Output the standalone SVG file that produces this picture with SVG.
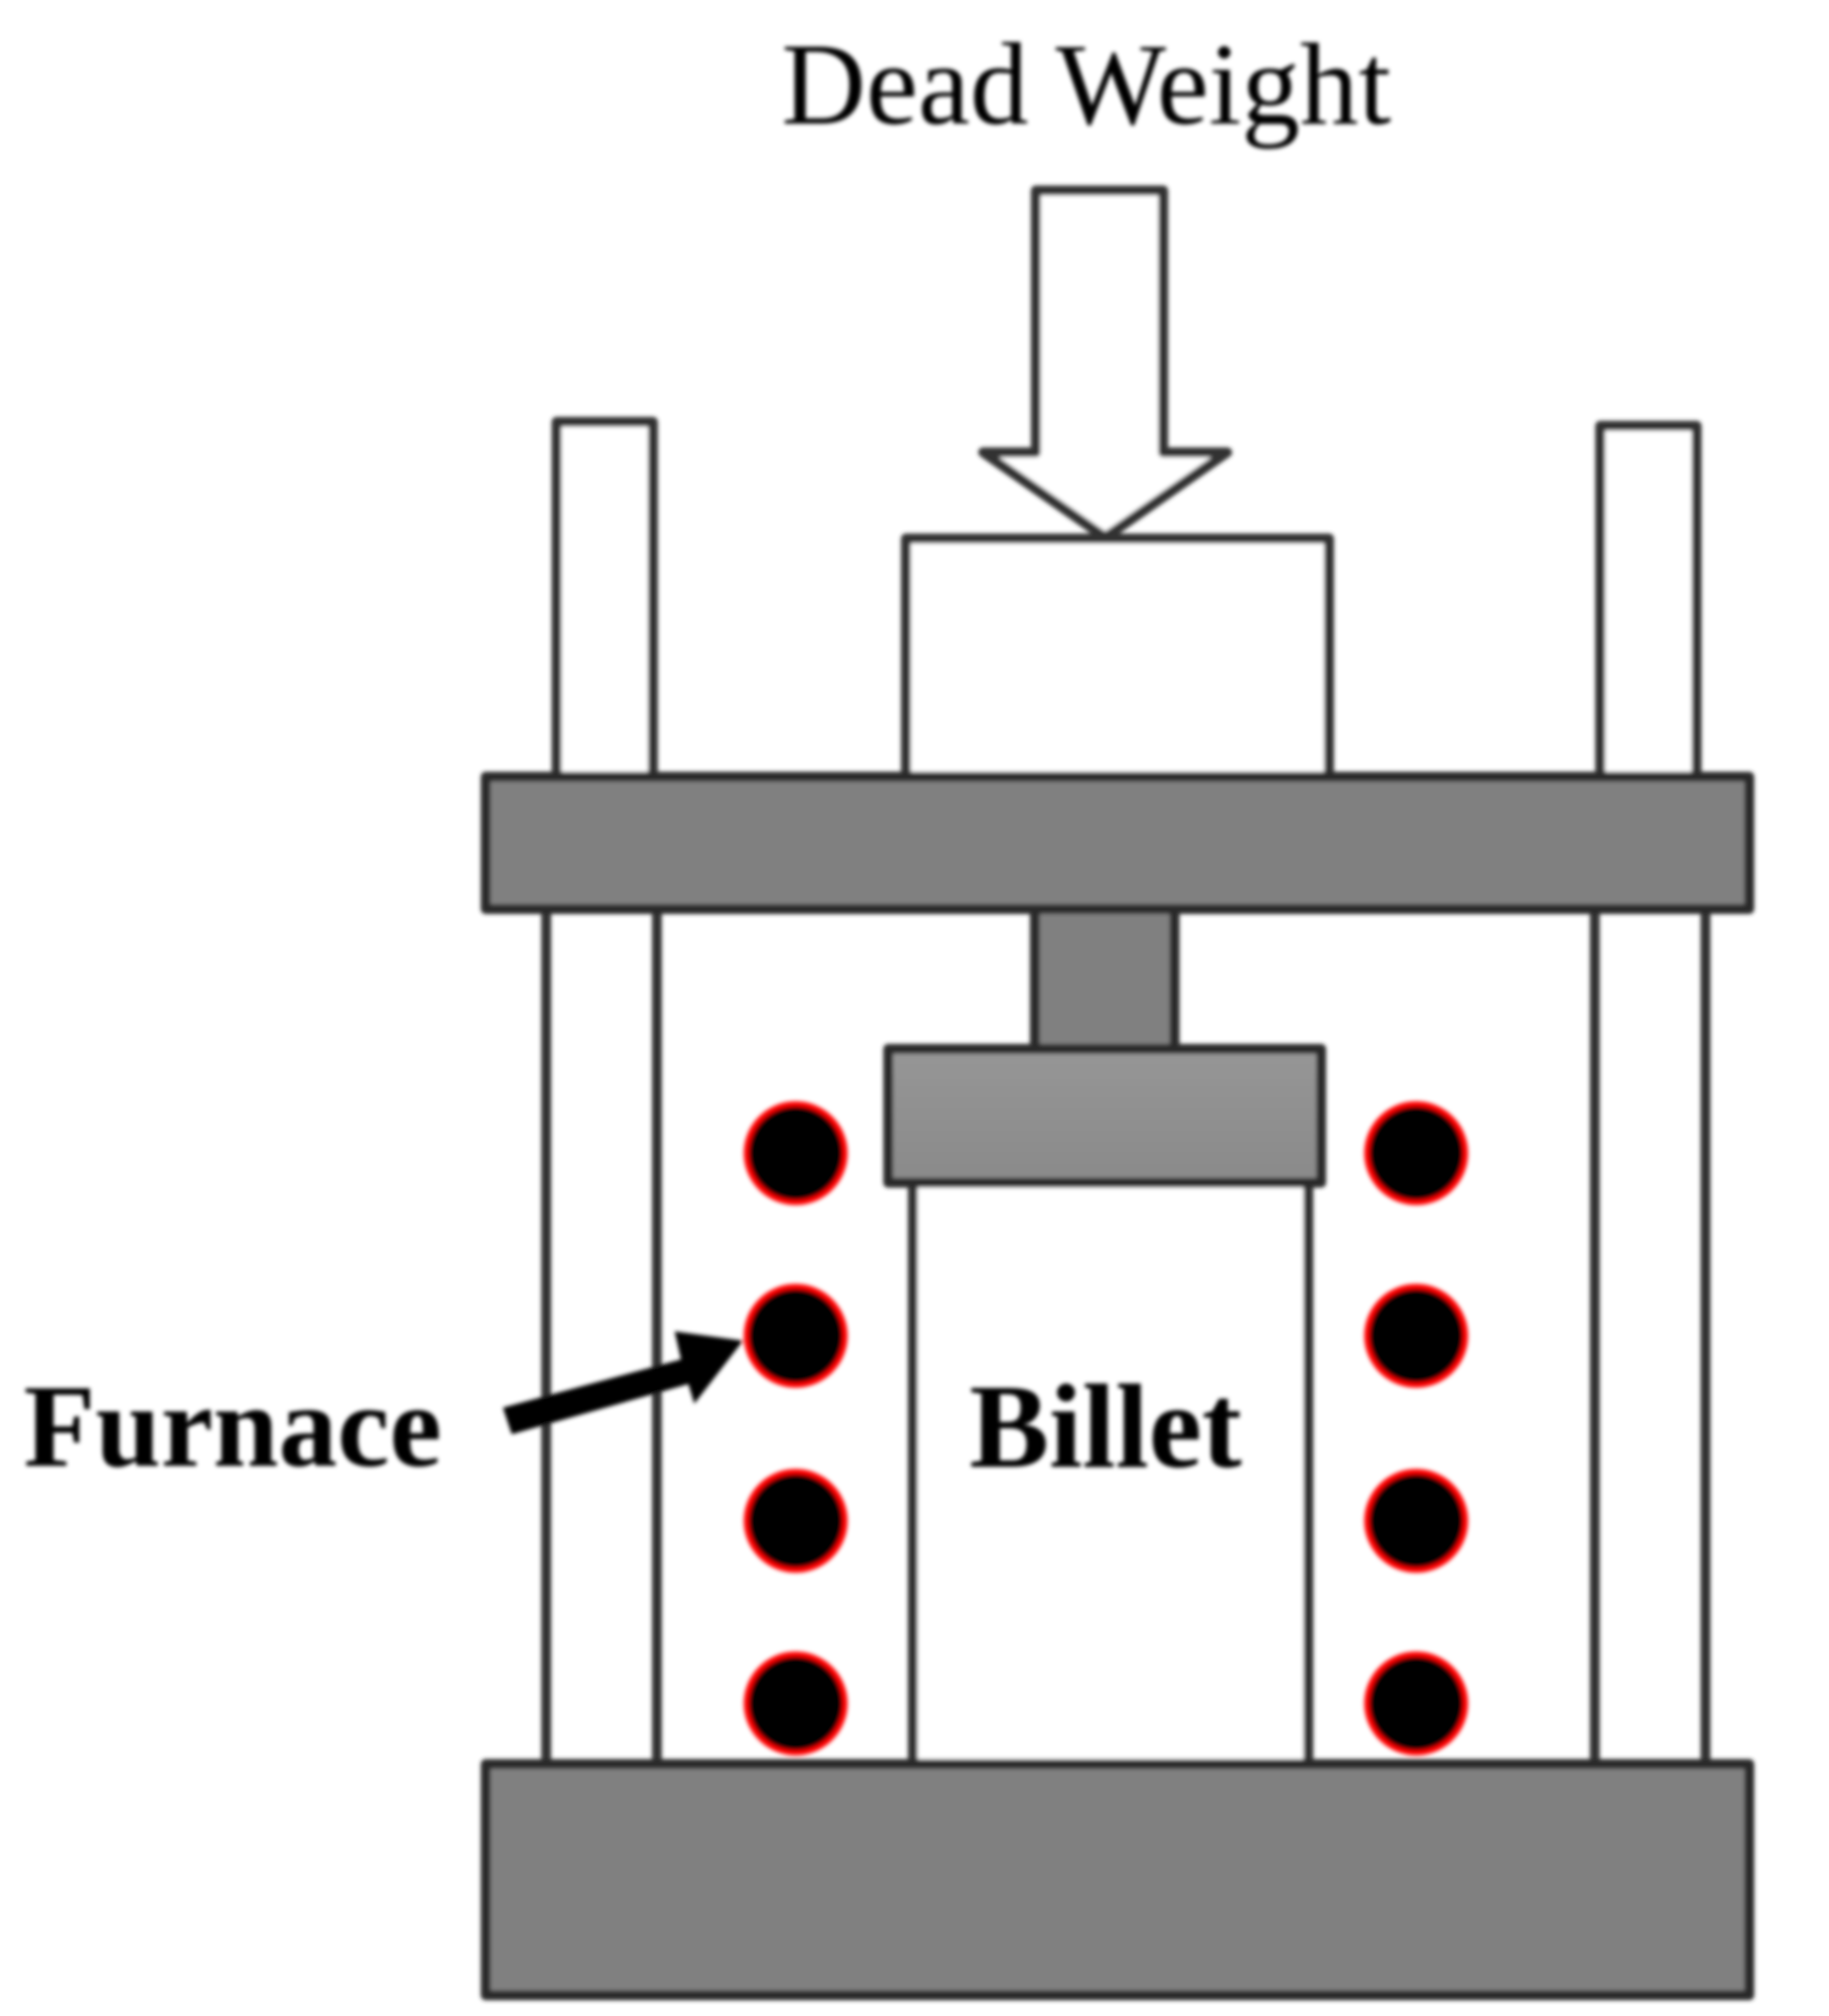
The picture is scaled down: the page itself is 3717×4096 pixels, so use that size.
<svg xmlns="http://www.w3.org/2000/svg" width="3717" height="4096" viewBox="0 0 3717 4096">
<defs>
<filter id="soft" x="-5%" y="-5%" width="110%" height="110%"><feGaussianBlur stdDeviation="4"/></filter>
<linearGradient id="platen" x1="0" y1="0" x2="0" y2="1"><stop offset="0" stop-color="#969696"/><stop offset="1" stop-color="#8a8a8a"/></linearGradient>
</defs>
<style>
.ln{fill:none;stroke:#333;stroke-width:20;stroke-linejoin:round;stroke-linecap:square}
.wh{fill:#fff;stroke:#333;stroke-width:20;stroke-linejoin:round}
.pl{fill:#808080;stroke:#2a2a2a;stroke-width:20;stroke-linejoin:round}
.coil{fill:#000;stroke:#f00;stroke-width:11}
.lab{font-family:"Liberation Serif","Times New Roman",serif;fill:#000}
.b{font-weight:700}
</style>
<rect width="3717" height="4096" fill="#fff"/>
<g filter="url(#soft)">
<g id="rod-upper-left"><path class="wh" d="M1131 1578V857H1327V1578"/></g>
<g id="rod-upper-right"><path class="wh" d="M3252 1578V865H3448V1578"/></g>
<g id="rod-lower-left"><path class="ln" d="M1110 1847V3584M1335 1847V3584"/></g>
<g id="rod-lower-right"><path class="ln" d="M3241 1847V3584M3466 1847V3584"/></g>
<g id="weight-block"><path class="wh" d="M1841 1578V1094H2701V1578"/></g>
<g id="top-plate"><rect class="pl" x="987" y="1578" width="2568" height="269"/></g>
<g id="stem"><rect class="pl" x="2103" y="1847" width="284" height="284"/></g>
<g id="billet"><path class="wh" d="M1855 3584V2403H2659V3584"/></g>
<g id="platen-block"><rect x="1805" y="2131" width="880" height="272" fill="url(#platen)" stroke="#2a2a2a" stroke-width="20" stroke-linejoin="round"/></g>
<g id="bottom-plate"><rect class="pl" x="987" y="3584" width="2568" height="470"/></g>
<g id="load-arrow"><path class="wh" d="M2105 387H2364V919H2494L2246 1092L1998 919H2105Z"/></g>
<g id="furnace-coils">
<circle class="coil" cx="1617" cy="2343" r="100"/><circle class="coil" cx="1617" cy="2714" r="100"/><circle class="coil" cx="1617" cy="3090" r="100"/><circle class="coil" cx="1617" cy="3461" r="100"/>
<circle class="coil" cx="2878" cy="2343" r="100"/><circle class="coil" cx="2878" cy="2714" r="100"/><circle class="coil" cx="2878" cy="3090" r="100"/><circle class="coil" cx="2878" cy="3461" r="100"/>
</g>
<g id="connectors"><path d="M1022 2860L1384 2762L1371 2705L1510 2724L1411 2852L1399 2812L1040 2914Z" fill="#000"/></g>
</g>
<g id="labels" filter="url(#soft)">
<text class="lab" x="1588" y="251" font-size="238">Dead Weight</text>
<text class="lab b" x="48" y="2978" font-size="239">Furnace</text>
<text class="lab b" x="1970" y="2980" font-size="243">Billet</text>
</g>
</svg>
